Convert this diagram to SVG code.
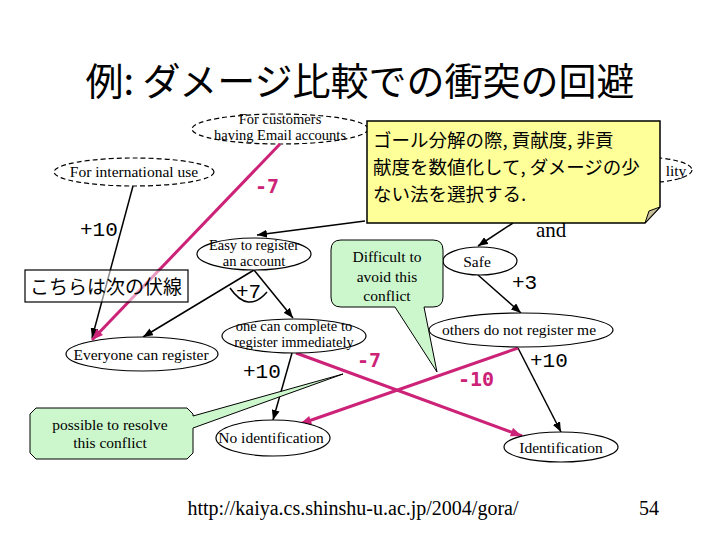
<svg xmlns="http://www.w3.org/2000/svg" width="720" height="540" viewBox="0 0 720 540">
<defs>
<marker id="ab" viewBox="0 0 10 8" refX="10" refY="4" markerWidth="10" markerHeight="8" markerUnits="userSpaceOnUse" orient="auto"><path d="M0,0 L10,4 L0,8 z" fill="#000"/></marker>
<marker id="ap" viewBox="0 0 10 8" refX="10" refY="4" markerWidth="12" markerHeight="9" markerUnits="userSpaceOnUse" orient="auto"><path d="M0,0 L10,4 L0,8 z" fill="#cc2277"/></marker>
</defs>
<style>
.t{font-family:"Liberation Serif","Times New Roman",serif;font-size:15.5px;fill:#000;text-anchor:middle}
.t2{font-family:"Liberation Serif","Times New Roman",serif;font-size:14.5px;fill:#000;text-anchor:middle}
.n{fill:#fff;stroke:#000;stroke-width:1.2}
.d{fill:#fff;stroke:#000;stroke-width:1.2;stroke-dasharray:5,3}
.e{stroke:#000;stroke-width:1.5;fill:none}
.p{stroke:#cc2277;stroke-width:3;fill:none}
.lb{font-family:"Liberation Mono","Courier New",monospace;font-size:21px;fill:#000}
.lp{font-family:"DejaVu Sans Mono","Liberation Mono",monospace;font-size:20px;font-weight:bold;fill:#cc2277}
.cj{font-family:"Noto Sans CJK JP","Noto Sans CJK SC",sans-serif;fill:#000}
.g{fill:#ccf7cc;stroke:#000;stroke-width:1}
</style>
<rect width="720" height="540" fill="#fff"/>
<text class="cj" x="360" y="95" font-size="38" text-anchor="middle">例: ダメージ比較での衝突の回避</text>

<g id="n-email"><ellipse class="d" cx="280" cy="129" rx="88" ry="15"/><text class="t2" x="280" y="124">For customers</text><text class="t2" x="280" y="140">having Email accounts</text></g>
<g id="n-intl"><ellipse class="d" cx="134" cy="172" rx="80" ry="14"/><text class="t" x="134" y="177">For international use</text></g>
<g id="n-lity"><ellipse class="d" cx="640" cy="170" rx="52" ry="13"/><text class="t" x="676" y="176">lity</text></g>

<g id="connectors">
<line class="e" x1="133" y1="186" x2="92" y2="338" marker-end="url(#ab)"/>
<line class="e" x1="365" y1="221" x2="257" y2="235" marker-end="url(#ab)"/>
<line class="e" x1="513" y1="223" x2="478" y2="246" marker-end="url(#ab)"/>
<line class="e" x1="254" y1="270" x2="143" y2="337" marker-end="url(#ab)"/>
<line class="e" x1="254" y1="270" x2="293" y2="318" marker-end="url(#ab)"/>
<path class="e" d="M230,288 Q248,314 267,292"/>
<line class="e" x1="478" y1="275" x2="521" y2="313" marker-end="url(#ab)"/>
<line class="e" x1="518" y1="348" x2="561" y2="432" marker-end="url(#ab)"/>
<line class="e" x1="292" y1="353" x2="273" y2="420" marker-end="url(#ab)"/>
<line class="p" x1="280" y1="144" x2="92" y2="340" marker-end="url(#ap)"/>
<line class="p" x1="296" y1="353" x2="522" y2="436" marker-end="url(#ap)"/>
<line class="p" x1="518" y1="348" x2="300" y2="424" marker-end="url(#ap)"/>
<text class="lb" x="80" y="236">+10</text>
<text class="lb" x="236" y="298">+7</text>
<text class="lb" x="512" y="289">+3</text>
<text class="lb" x="530" y="367">+10</text>
<text class="lb" x="243" y="378">+10</text>
<text class="lp" x="255" y="193">-7</text>
<text class="lp" x="357" y="367">-7</text>
<text class="lp" x="458" y="386">-10</text>
<text x="536" y="237" font-family="Liberation Serif,serif" font-size="21">and</text>
</g>

<g id="n-note"><path d="M367,121 L660,121 L660,207 L645,223 L367,223 Z" fill="#ffff99" stroke="#000" stroke-width="1.5"/><path d="M645,223 L649,211 L660,207 Z" fill="#c8c09a" stroke="#000" stroke-width="1"/>
<text class="cj" x="373" y="147" font-size="18.5" xml:space="preserve">ゴール分解の際, 貢献度, 非貢</text>
<text class="cj" x="373" y="174" font-size="18.5" xml:space="preserve">献度を数値化して, ダメージの少</text>
<text class="cj" x="373" y="201" font-size="18.5">ない法を選択する.</text></g>

<g id="n-easy"><ellipse class="n" cx="254" cy="254" rx="57" ry="16"/><text class="t2" x="254" y="250">Easy to register</text><text class="t2" x="254" y="266">an account</text></g>
<g id="n-safe"><ellipse class="n" cx="480" cy="261" rx="37" ry="14"/><text class="t" x="477" y="267">Safe</text></g>
<g id="n-others"><ellipse class="n" cx="521" cy="330" rx="92" ry="17"/><text class="t" x="519" y="335">others do not register me</text></g>
<g id="n-onecan"><ellipse class="n" cx="294" cy="336" rx="72" ry="17"/><text class="t2" x="294" y="331">one can complete to</text><text class="t2" x="294" y="347">register immediately</text></g>
<g id="n-everyone"><ellipse class="n" cx="142" cy="354" rx="76" ry="17"/><text class="t" x="141" y="360">Everyone can register</text></g>
<g id="n-noid"><ellipse class="n" cx="273" cy="438" rx="57" ry="18"/><text class="t" x="271" y="443">No identification</text></g>
<g id="n-id"><ellipse class="n" cx="561" cy="447" rx="57" ry="15"/><text class="t" x="561" y="453">Identification</text></g>

<g id="n-fusen"><rect x="25" y="270" width="163" height="32" fill="#fff" fill-opacity="0.55" stroke="#000" stroke-width="1.2"/><text class="cj" x="30" y="294" font-size="19">こちらは次の伏線</text></g>

<g id="n-difficult"><path class="g" d="M341,240 L433,240 Q443,240 443,250 L443,297 Q443,307 433,307 L424,307 L437,372 L395,307 L341,307 Q331,307 331,297 L331,250 Q331,240 341,240 Z"/>
<text class="t" x="387" y="262">Difficult to</text><text class="t" x="387" y="282">avoid this</text><text class="t" x="387" y="301">conflict</text></g>

<g id="n-possible"><path class="g" d="M36,408 L187,408 L193,414 L193,416 L343,374 L193,428 L193,453 L187,459 L36,459 L30,453 L30,414 Z"/>
<text class="t" x="110" y="430">possible to resolve</text><text class="t" x="110" y="448">this conflict</text></g>

<text x="353" y="515" font-family="Liberation Serif,serif" font-size="20" text-anchor="middle">http://kaiya.cs.shinshu-u.ac.jp/2004/gora/</text>
<text x="649" y="515" font-family="Liberation Serif,serif" font-size="20" text-anchor="middle">54</text>
</svg>
